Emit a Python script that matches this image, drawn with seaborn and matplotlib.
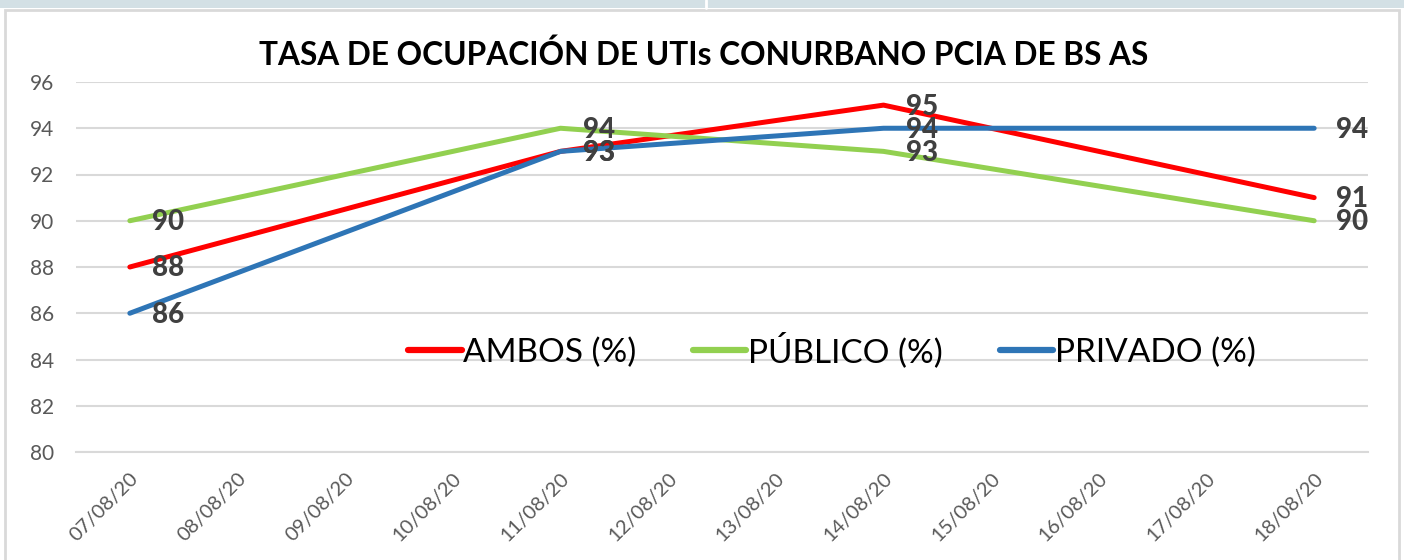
import matplotlib
matplotlib.use("Agg")
import matplotlib.pyplot as plt
import numpy as np
import pandas as pd
import seaborn as sns
from matplotlib.patches import Rectangle

""" Data """
categories = ["07/08/20", "08/08/20", "09/08/20", "10/08/20", "11/08/20", "12/08/20",
              "13/08/20", "14/08/20", "15/08/20", "16/08/20", "17/08/20", "18/08/20"]
obs_dates = ["07/08/20", "11/08/20", "14/08/20", "18/08/20"]
ambos = [88, 93, 95, 91]
publico = [90, 94, 93, 90]
privado = [86, 93, 94, 94]
series_names = ["AMBOS (%)", "PÚBLICO (%)", "PRIVADO (%)"]
title = "TASA DE OCUPACIÓN DE UTIs CONURBANO PCIA DE BS AS"

""" Style """
colors = ["#FF0000", "#92D050", "#2E75B6"]
label_color = "#404040"
tick_color = "#595959"
grid_color = "#D9D9D9"

sns.set_theme(style="white")
plt.rcParams["font.family"] = ["Lato", "DejaVu Sans"]

rows = []
for name, vals in zip(series_names, [ambos, publico, privado]):
    for d, v in zip(obs_dates, vals):
        rows.append({"pos": categories.index(d), "value": v, "serie": name})
df = pd.DataFrame(rows)

fig = plt.figure(figsize=(14.04, 5.6), dpi=100)
ax = fig.add_axes([76 / 1404, 108 / 560, 1292 / 1404, 370 / 560])

sns.lineplot(data=df, x="pos", y="value", hue="serie", palette=colors,
             linewidth=3.6, ax=ax, legend=True, solid_capstyle="round")

# data labels to the right of each point
for name, c in zip(series_names, colors):
    sub = df[df["serie"] == name]
    for x, y in zip(sub["pos"], sub["value"]):
        ax.annotate(f"{y:d}", (x, y), xytext=(16, -1), textcoords="offset points",
                    ha="left", va="center", fontsize=20, fontweight="black",
                    color=label_color)

ax.set_xlim(-0.5, len(categories) - 0.5)
ax.set_ylim(80, 96)
ax.set_yticks(np.arange(80, 97, 2))
ax.set_xticks(np.arange(len(categories)))
ax.set_xticklabels(categories, rotation=45, ha="right", rotation_mode="anchor",
                   fontsize=14.5, color=tick_color)
ax.tick_params(axis="y", labelsize=15, labelcolor=tick_color, length=0, pad=16)
ax.tick_params(axis="x", length=0, pad=13)
ax.set_xticks(np.arange(len(categories) + 1) - 0.5, minor=True)
ax.tick_params(axis="x", which="minor", length=6, width=1.2, color=grid_color, direction="out")
ax.set_xlabel("")
ax.set_ylabel("")
ax.grid(axis="y", color=grid_color, linewidth=1.5)
ax.set_axisbelow(True)
for s in ["top", "right", "left"]:
    ax.spines[s].set_visible(False)
ax.spines["bottom"].set_color(grid_color)
ax.spines["bottom"].set_linewidth(1.5)

leg = ax.legend(loc="center", bbox_to_anchor=(0.585, 0.276), ncol=3, frameon=False,
                fontsize=24, handlelength=1.6, handletextpad=0.05, columnspacing=1.7)
for line in leg.get_lines():
    line.set_linewidth(4.5)
for t in leg.get_texts():
    t.set_color("black")

fig.text(704 / 1404, 1 - 55 / 560, title, ha="center", va="center",
         fontsize=22.8, fontweight="bold", color="black")

# frame and top strip like the source screenshot
fig.patches.append(Rectangle((0, 1 - 8 / 560), 1, 8 / 560, transform=fig.transFigure,
                             facecolor="#D3E0E5", edgecolor="none", zorder=0))
fig.patches.append(Rectangle((5 / 1404, -0.02), 1394 / 1404, 1 - 10 / 560 + 0.02,
                             transform=fig.transFigure, facecolor="none",
                             edgecolor="#D9D9D9", linewidth=2, zorder=0))
fig.lines.append(plt.Line2D([706 / 1404, 706 / 1404], [1 - 8 / 560, 1],
                            transform=fig.transFigure, color="white", linewidth=2))

fig.savefig("out.png", dpi=100)
